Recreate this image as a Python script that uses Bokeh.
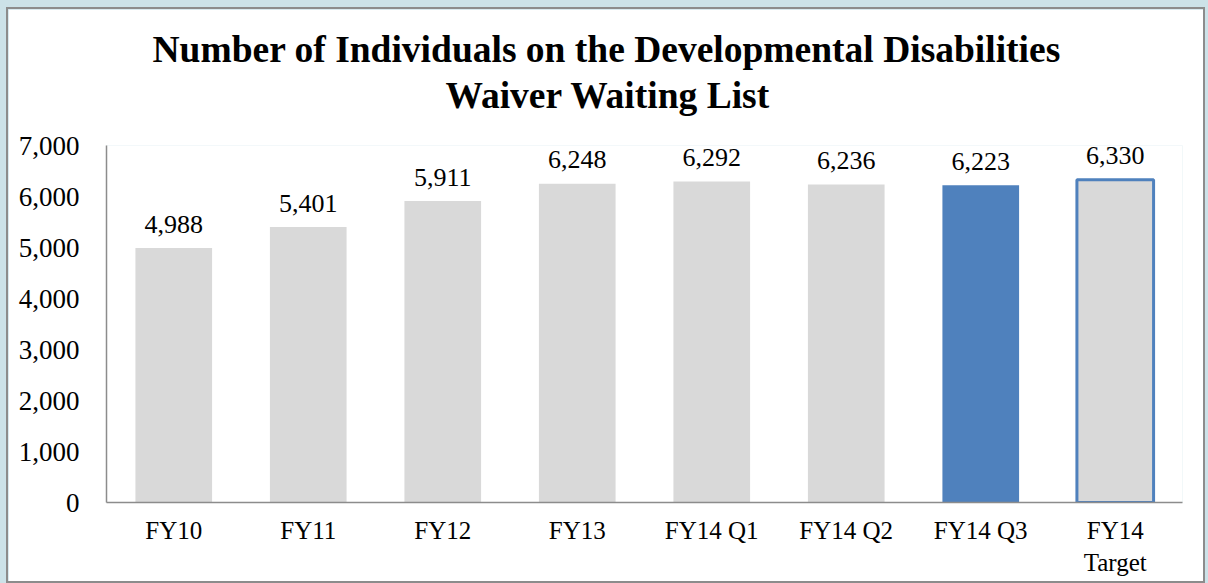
from bokeh.plotting import figure
from bokeh.models import Title, NumeralTickFormatter, FactorRange, ColumnDataSource, FixedTicker
from bokeh.layouts import column
from bokeh.core.properties import value
from bokeh.embed import file_html
from bokeh.resources import INLINE

title_lines = ["Number of Individuals on the Developmental Disabilities", "Waiver Waiting List"]
categories = ["FY10", "FY11", "FY12", "FY13", "FY14 Q1", "FY14 Q2", "FY14 Q3", "FY14\nTarget"]
counts = [4988, 5401, 5911, 6248, 6292, 6236, 6223, 6330]
labels = ["4,988", "5,401", "5,911", "6,248", "6,292", "6,236", "6,223", "6,330"]
fill_colors = ["#d9d9d9"] * 6 + ["#4f81bd", "#d9d9d9"]
line_colors = ["#d9d9d9"] * 6 + ["#4f81bd", "#4f81bd"]
line_widths = [0, 0, 0, 0, 0, 0, 0, 3]
y_ticks = [0, 1000, 2000, 3000, 4000, 5000, 6000, 7000]

FONT = "Liberation Serif"

src = ColumnDataSource(dict(cat=categories, v=counts, lab=labels,
                            fc=fill_colors, lc=line_colors, lw=line_widths))

p = figure(x_range=FactorRange(*categories, range_padding=0), y_range=(0, 7000),
           width=1199, height=576, output_backend="svg", toolbar_location=None,
           min_border_left=98, min_border_right=25, min_border_bottom=83, min_border_top=136,
           styles={"border": "2px solid #8c8c8c", "box-sizing": "border-box"})

p.add_layout(Title(text=title_lines[1], text_font=FONT, text_font_size="37.5px",
                   text_font_style="bold", text_color="black", align="left", offset=339,
                   standoff=60), "above")
p.add_layout(Title(text=title_lines[0], text_font=FONT,
                   text_font_size="37.5px", text_font_style="bold", text_color="black",
                   align="left", offset=46, standoff=-54), "above")

p.vbar(x="cat", top="v", width=0.57, source=src, fill_color="fc", line_color="lc",
       line_width="lw")
p.text(x="cat", y="v", text="lab", source=src, text_align="center", text_baseline="alphabetic",
       y_offset=-24, text_font=value(FONT), text_font_size="26px", text_color="black")

p.xgrid.visible = False
p.ygrid.visible = False
p.outline_line_color = None
p.background_fill_color = "white"
p.border_fill_color = "white"

p.yaxis.ticker = FixedTicker(ticks=y_ticks)
p.yaxis.formatter = NumeralTickFormatter(format="0,0")
for ax in (p.xaxis[0], p.yaxis[0]):
    ax.axis_line_color = "#8c8c8c"
    ax.axis_line_width = 1.5
    ax.major_tick_line_color = None
    ax.minor_tick_line_color = None
    ax.major_label_text_font = FONT
    ax.major_label_text_color = "black"
p.yaxis.major_label_text_font_size = "27px"
p.xaxis.major_label_text_font_size = "25px"
p.yaxis.major_label_standoff = 21
p.xaxis.major_label_standoff = 8

page = column(p, styles={"background-color": "#cce2e8", "padding": "7px 3px 0px 6px"})

open("out.html", "w").write(file_html(page, INLINE))
